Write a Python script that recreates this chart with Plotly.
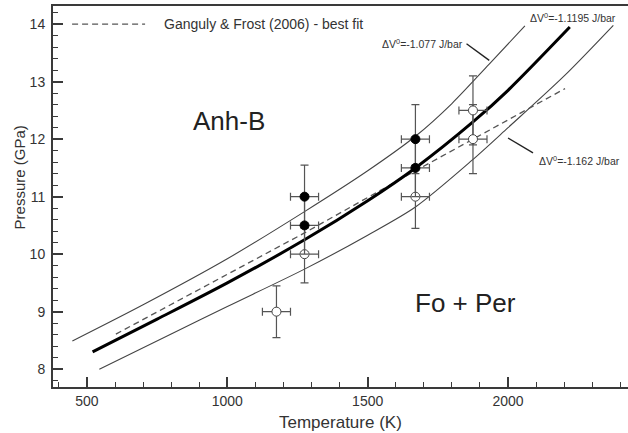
import plotly.graph_objects as go

# ---- data ----
# best-fit boundary (thick)
best_T = [520, 750, 1000, 1275, 1500, 1670, 1875, 2000, 2220]
best_P = [8.30, 8.87, 9.50, 10.25, 10.93, 11.50, 12.30, 12.85, 13.95]
# dV0 = -1.077 J/bar (upper thin)
up_T = [448, 700, 1000, 1275, 1500, 1670, 1800, 1932, 2060]
up_P = [8.49, 9.12, 9.92, 10.74, 11.45, 12.05, 12.62, 13.30, 13.97]
# dV0 = -1.162 J/bar (lower thin)
lo_T = [544, 800, 1000, 1275, 1500, 1670, 1871, 2000, 2200, 2375]
lo_P = [8.00, 8.61, 9.09, 9.74, 10.33, 10.82, 11.63, 12.20, 13.10, 13.98]
# Ganguly & Frost (2006) best fit (dashed)
gf_T = [603, 1275, 1670, 1875, 2203]
gf_P = [8.61, 10.37, 11.45, 12.00, 12.88]

# experiments: Anh-B stable (filled)
fill_T = [1275, 1275, 1670, 1670]
fill_P = [11.0, 10.5, 12.0, 11.5]
fill_dP = [0.55, 0.5, 0.6, 0.5]
fill_dT = [50, 50, 50, 50]
# experiments: Fo + Per stable (open)
open_T = [1175, 1275, 1670, 1875, 1875]
open_P = [9.0, 10.0, 11.0, 12.5, 12.0]
open_dP = [0.45, 0.5, 0.55, 0.6, 0.6]
open_dT = [50, 50, 50, 50, 50]

x_ticks = [500, 1000, 1500, 2000]
y_ticks = [8, 9, 10, 11, 12, 13, 14]

FONT = "Liberation Sans, Arial, Helvetica, sans-serif"
AX = "#3a3a3a"

fig = go.Figure()

fig.add_trace(go.Scatter(x=up_T, y=up_P, mode="lines", line=dict(color="#444", width=1.1, shape="spline", smoothing=0.8), showlegend=False, hoverinfo="skip"))
fig.add_trace(go.Scatter(x=lo_T, y=lo_P, mode="lines", line=dict(color="#444", width=1.1, shape="spline", smoothing=0.8), showlegend=False, hoverinfo="skip"))
fig.add_trace(go.Scatter(x=gf_T, y=gf_P, mode="lines", line=dict(color="#555", width=1.3, dash="6px,4px"), showlegend=False, hoverinfo="skip"))
fig.add_trace(go.Scatter(x=best_T, y=best_P, mode="lines", line=dict(color="black", width=3, shape="spline", smoothing=0.8), showlegend=False, hoverinfo="skip"))

err_style = dict(color="#555", thickness=1.2, width=4)
fig.add_trace(go.Scatter(
    x=open_T, y=open_P, mode="markers",
    marker=dict(size=9, color="white", line=dict(color="#444", width=1)),
    error_y=dict(type="data", array=open_dP, visible=True, **err_style),
    error_x=dict(type="data", array=open_dT, visible=True, **err_style),
    showlegend=False))
fig.add_trace(go.Scatter(
    x=fill_T, y=fill_P, mode="markers",
    marker=dict(size=9, color="black", line=dict(color="black", width=1)),
    error_y=dict(type="data", array=fill_dP, visible=True, **err_style),
    error_x=dict(type="data", array=fill_dT, visible=True, **err_style),
    showlegend=False))

# legend key (dashed sample + text)
fig.add_shape(type="line", x0=447, x1=707, y0=14.0, y1=14.0, xref="x", yref="y",
              line=dict(color="#555", width=1.3, dash="6px,4px"))
fig.add_annotation(x=767, y=14.0, xref="x", yref="y", text="Ganguly & Frost (2006) - best fit",
                   showarrow=False, xanchor="left", yanchor="middle",
                   font=dict(family=FONT, size=14, color="#333"))

# region labels
fig.add_annotation(x=1007, y=12.31, text="Anh-B", showarrow=False,
                   font=dict(family=FONT, size=26, color="#222"))
fig.add_annotation(x=1847, y=9.15, text="Fo + Per", showarrow=False,
                   font=dict(family=FONT, size=26, color="#222"))

# curve labels
lab_font = dict(family=FONT, size=10.5, color="#333")
fig.add_annotation(x=2233, y=14.12, text="ΔV<sup>0</sup>=-1.1195 J/bar", showarrow=False, font=lab_font)
fig.add_annotation(x=1695, y=13.67, text="ΔV<sup>0</sup>=-1.077 J/bar", showarrow=False, font=lab_font)
fig.add_annotation(x=2255, y=11.63, text="ΔV<sup>0</sup>=-1.162 J/bar", showarrow=False, font=lab_font)
fig.add_shape(type="line", x0=1852, y0=13.66, x1=1933, y1=13.37, line=dict(color="#222", width=1.4))
fig.add_shape(type="line", x0=2000, y0=12.02, x1=2089, y1=11.76, line=dict(color="#222", width=1.4))

# axis titles
fig.add_annotation(x=0.4898, y=-0.092, xref="paper", yref="paper", text="Temperature (K)",
                   showarrow=False, yanchor="middle", font=dict(family=FONT, size=17, color="#333"))
fig.add_annotation(x=-0.0579, y=0.55, xref="paper", yref="paper", text="Pressure (GPa)",
                   showarrow=False, textangle=-90, xanchor="center", yanchor="middle",
                   font=dict(family=FONT, size=15, color="#333"))

fig.update_xaxes(range=[379, 2470], tickvals=x_ticks, ticks="inside", ticklen=10, tickwidth=1.5,
                 tickcolor=AX, showline=True, linecolor=AX, linewidth=2, mirror=True,
                 showgrid=False, zeroline=False, ticklabelstandoff=0,
                 tickfont=dict(family=FONT, size=14, color="#333"),
                 minor=dict(dtick=100, tick0=0, ticks="inside", ticklen=5, tickwidth=1.2, tickcolor=AX))
fig.update_yaxes(range=[7.69, 14.316], tickvals=y_ticks, ticks="inside", ticklen=10, tickwidth=1.5,
                 tickcolor=AX, showline=True, linecolor=AX, linewidth=2, mirror=False,
                 showgrid=False, zeroline=False, ticklabelstandoff=3,
                 tickfont=dict(family=FONT, size=14, color="#333"),
                 minor=dict(dtick=0.2, tick0=0, ticks="inside", ticklen=5, tickwidth=1.2, tickcolor=AX))

# the original figure is cropped at its right edge: the plot area runs past the 628 px view
fig.update_layout(width=640, height=433, margin=dict(l=53, r=0, t=6, b=46, autoexpand=False),
                  paper_bgcolor="white", plot_bgcolor="white", showlegend=False)

fig.write_html("out.html", config={"displayModeBar": False},
               post_script="document.body.style.margin='0';document.body.style.overflow='hidden';")
